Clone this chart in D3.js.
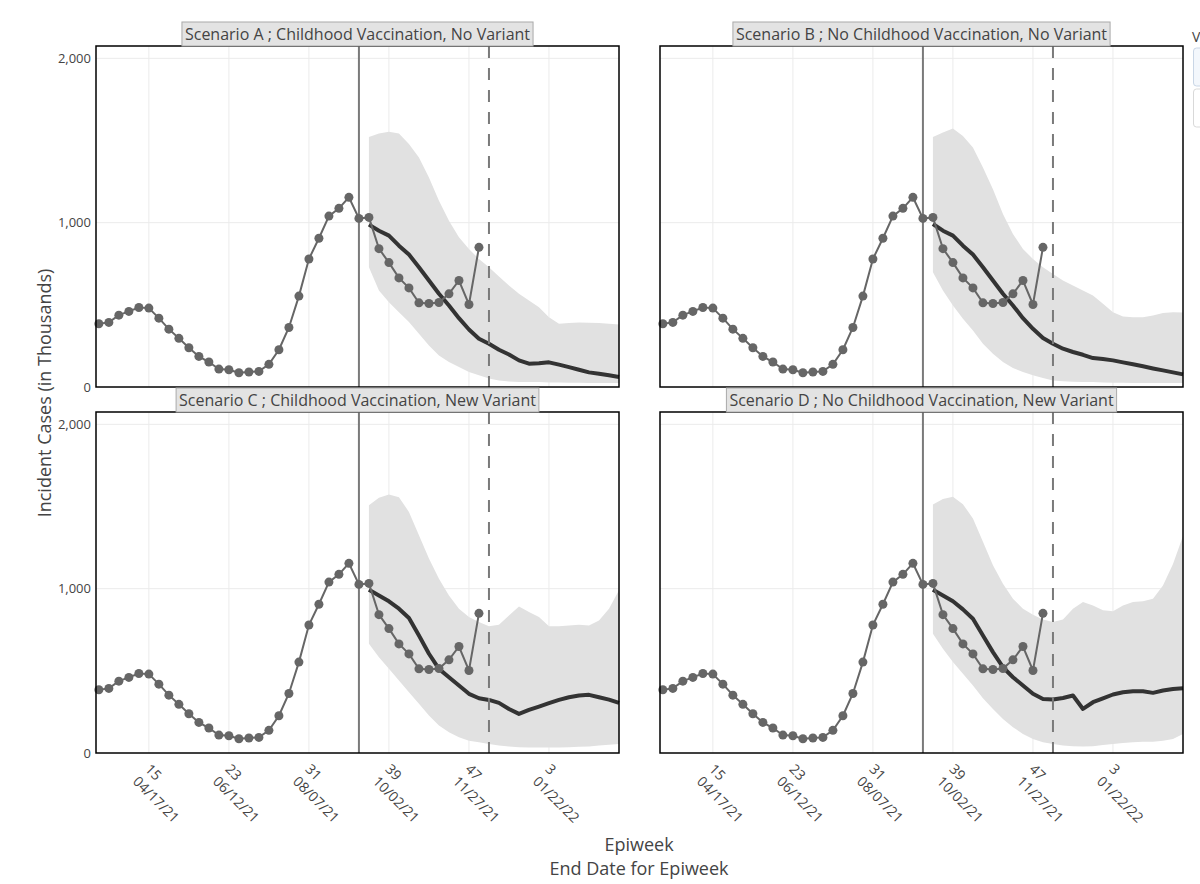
<!DOCTYPE html>
<html>
<head>
<meta charset="utf-8">
<script src="https://cdn.jsdelivr.net/npm/d3@7"></script>
<style>
    body { margin: 0; background: #fff; }
    svg { display: block; font-family: "Open Sans", sans-serif; }
</style>
</head>
<body>
<div id="chart"></div>
<script>

// ---- data (incident cases, thousands) ----
const panelTitles = [
    "Scenario A ; Childhood Vaccination, No Variant",
    "Scenario B ; No Childhood Vaccination, No Variant",
    "Scenario C ; Childhood Vaccination, New Variant",
    "Scenario D ; No Childhood Vaccination, New Variant"
];

const tickWeeks = ["15", "23", "31", "39", "47", "3"];
const tickDates = ["2021-04-17", "2021-06-12", "2021-08-07", "2021-10-02", "2021-11-27", "2022-01-22"];
const yTicks = [0, 1000, 2000];

// observed, weekly from epiweek 10 (03/13/21) to epiweek 48 (12/04/21)
const obsStart = "2021-03-13";
const obsCases = [385, 393, 437, 460, 484, 480, 419, 352, 296, 239, 186, 152, 109, 105, 87, 91, 95,
    138, 227, 362, 553, 779, 905, 1040, 1087, 1154, 1026, 1032, 842, 757, 664, 603, 512, 508, 514,
    567, 648, 502, 850];

// projections, weekly from epiweek 37 (09/18/21) to 2022 epiweek 10 (03/12/22)
const projStart = "2021-09-18";
const medA = [988, 951, 921, 860, 806, 729, 648, 567, 496, 419, 350, 294, 263, 227, 198, 162, 142, 144, 150, 136, 121, 105, 89, 81, 71, 61];
const upA  = [1522, 1543, 1553, 1543, 1478, 1397, 1275, 1134, 1012, 911, 840, 779, 729, 672, 617, 567, 526, 486, 425, 385, 389, 393, 391, 389, 385, 381];
const loA  = [729, 587, 516, 455, 395, 324, 253, 192, 152, 121, 91, 71, 51, 40, 34, 30, 30, 30, 28, 28, 26, 26, 25, 24, 24, 24];

const medB = [992, 951, 921, 860, 806, 729, 648, 567, 496, 419, 354, 298, 263, 233, 213, 196, 176, 170, 162, 150, 138, 126, 113, 101, 89, 77];
const upB  = [1522, 1549, 1573, 1528, 1457, 1336, 1204, 1053, 931, 840, 779, 729, 688, 648, 617, 587, 557, 506, 455, 429, 425, 425, 435, 451, 455, 453];
const loB  = [698, 587, 496, 415, 344, 263, 202, 152, 115, 91, 71, 55, 40, 35, 32, 30, 30, 28, 26, 26, 25, 25, 24, 24, 24, 24];

const medC = [994, 959, 923, 878, 821, 715, 604, 512, 461, 411, 360, 333, 323, 305, 268, 238, 262, 282, 303, 323, 339, 350, 354, 339, 325, 305];
const upC  = [1508, 1553, 1573, 1557, 1467, 1325, 1183, 1061, 959, 878, 827, 797, 772, 780, 837, 892, 858, 827, 772, 772, 776, 780, 776, 807, 878, 990];
const loC  = [665, 583, 512, 441, 370, 299, 228, 167, 126, 96, 75, 65, 55, 45, 39, 35, 33, 33, 33, 34, 35, 38, 40, 45, 50, 55];

const medD = [994, 959, 923, 874, 817, 715, 614, 522, 461, 411, 360, 329, 325, 335, 350, 268, 309, 333, 356, 370, 376, 376, 366, 380, 390, 394];
const upD  = [1512, 1545, 1559, 1514, 1427, 1285, 1142, 1030, 939, 878, 841, 813, 797, 813, 878, 919, 898, 868, 862, 898, 919, 923, 939, 1020, 1150, 1320];
const loD  = [726, 634, 553, 482, 411, 333, 268, 207, 157, 116, 85, 65, 55, 45, 41, 39, 41, 49, 55, 61, 65, 69, 69, 75, 85, 116];

const projLineDate = "2021-09-11";
const dashLineDate = "2021-12-11";


class PanelVis {
    constructor(svg, cfg) {
        this.svg = svg;
        this.cfg = cfg;
        this.initVis();
    }

    initVis() {
        let vis = this;
        let cfg = vis.cfg;

        vis.width = 523;
        vis.height = 341;

        vis.g = vis.svg.append("g")
            .attr("transform", "translate(" + cfg.left + "," + cfg.top + ")");

        vis.x = d3.scaleTime()
            .domain([parse("2021-03-11"), parse("2022-03-12")])
            .range([0, vis.width]);

        vis.y = d3.scaleLinear()
            .domain([0, 2075])
            .range([vis.height, 0]);

        // grid
        vis.g.append("g").selectAll("line")
            .data(tickDates.map(parse))
            .join("line")
            .attr("x1", d => vis.x(d)).attr("x2", d => vis.x(d))
            .attr("y1", 0).attr("y2", vis.height)
            .attr("stroke", "#ebebeb").attr("stroke-width", 1);

        vis.g.append("g").selectAll("line")
            .data(yTicks.slice(1))
            .join("line")
            .attr("x1", 0).attr("x2", vis.width)
            .attr("y1", d => vis.y(d)).attr("y2", d => vis.y(d))
            .attr("stroke", "#ebebeb").attr("stroke-width", 1);

        vis.wrangleData();
    }

    wrangleData() {
        let vis = this;
        let s = parse(projStart);
        vis.proj = vis.cfg.med.map((m, i) => ({
            date: d3.timeDay.offset(s, 7 * i),
            med: m,
            up: vis.cfg.up[i],
            lo: vis.cfg.lo[i]
        }));
        let o = parse(obsStart);
        vis.obs = obsCases.map((v, i) => ({date: d3.timeDay.offset(o, 7 * i), value: v}));

        vis.updateVis();
    }

    updateVis() {
        let vis = this;

        let area = d3.area()
            .x(d => vis.x(d.date))
            .y0(d => vis.y(d.lo))
            .y1(d => vis.y(d.up));

        vis.g.append("path")
            .datum(vis.proj)
            .attr("d", area)
            .attr("fill", "#e1e1e1");

        let medLine = d3.line()
            .x(d => vis.x(d.date))
            .y(d => vis.y(d.med));

        vis.g.append("path")
            .datum(vis.proj)
            .attr("d", medLine)
            .attr("fill", "none")
            .attr("stroke", "#333")
            .attr("stroke-width", 4)
            .attr("stroke-linejoin", "round");

        // projection start / current week
        vis.g.append("line")
            .attr("x1", vis.x(parse(projLineDate))).attr("x2", vis.x(parse(projLineDate)))
            .attr("y1", 0).attr("y2", vis.height)
            .attr("stroke", "#7a7a7a").attr("stroke-width", 2);

        vis.g.append("line")
            .attr("x1", vis.x(parse(dashLineDate))).attr("x2", vis.x(parse(dashLineDate)))
            .attr("y1", 0).attr("y2", vis.height)
            .attr("stroke", "#7a7a7a").attr("stroke-width", 2)
            .attr("stroke-dasharray", "12,10");

        let obsLine = d3.line()
            .x(d => vis.x(d.date))
            .y(d => vis.y(d.value));

        vis.g.append("path")
            .datum(vis.obs)
            .attr("d", obsLine)
            .attr("fill", "none")
            .attr("stroke", "#666")
            .attr("stroke-width", 2);

        vis.g.append("g").selectAll("circle")
            .data(vis.obs)
            .join("circle")
            .attr("cx", d => vis.x(d.date))
            .attr("cy", d => vis.y(d.value))
            .attr("r", 4.5)
            .attr("fill", "#666");

        // frame
        vis.g.append("rect")
            .attr("width", vis.width)
            .attr("height", vis.height)
            .attr("fill", "none")
            .attr("stroke", "#000")
            .attr("stroke-width", 1.5);

        // strip title
        let strip = vis.g.append("g");
        let stripRect = strip.append("rect");
        let stripText = strip.append("text")
            .attr("x", vis.width / 2)
            .attr("y", -6)
            .attr("text-anchor", "middle")
            .attr("font-size", 16)
            .attr("fill", "#444")
            .text(vis.cfg.title);
        let tw = stripText.node().getComputedTextLength();
        stripRect
            .attr("x", vis.width / 2 - tw / 2 - 3)
            .attr("y", -24)
            .attr("width", tw + 6)
            .attr("height", 24)
            .attr("fill", "#e3e3e3")
            .attr("stroke", "#aaa")
            .attr("stroke-width", 1);

        // y axis
        if (vis.cfg.showY) {
            let yAxis = d3.axisLeft(vis.y)
                .tickValues(yTicks)
                .tickSize(0)
                .tickPadding(5)
                .tickFormat(d3.format(","));
            let yg = vis.g.append("g").call(yAxis);
            yg.select(".domain").remove();
            yg.selectAll("text")
                .attr("font-family", "'Open Sans', sans-serif")
                .attr("font-size", 13)
                .attr("fill", "#444");
        }

        // x axis
        if (vis.cfg.showX) {
            let xAxis = d3.axisBottom(vis.x)
                .tickValues(tickDates.map(parse))
                .tickSize(0)
                .tickFormat("");
            let xg = vis.g.append("g")
                .attr("transform", "translate(0," + vis.height + ")")
                .call(xAxis);
            xg.select(".domain").remove();
            let fmt = d3.timeFormat("%m/%d/%y");
            xg.selectAll(".tick text")
                .attr("y", 0).attr("dy", null)
                .attr("text-anchor", "start")
                .attr("transform", "translate(-5,17) rotate(45)")
                .attr("font-family", "'Open Sans', sans-serif")
                .attr("font-size", 14)
                .attr("fill", "#444")
                .each(function (d, i) {
                    let t = d3.select(this);
                    t.append("tspan").attr("x", 0).attr("dy", 0).text(tickWeeks[i]);
                    t.append("tspan").attr("x", 0).attr("dy", "1.25em").text(fmt(d));
                });
        }
    }
}

const parse = d3.timeParse("%Y-%m-%d");

const svg = d3.select("#chart").append("svg")
    .attr("width", 1200)
    .attr("height", 884);

let panels = [
    {title: panelTitles[0], med: medA, up: upA, lo: loA, left: 96, top: 46, showX: false, showY: true},
    {title: panelTitles[1], med: medB, up: upB, lo: loB, left: 660, top: 46, showX: false, showY: false},
    {title: panelTitles[2], med: medC, up: upC, lo: loC, left: 96, top: 412, showX: true, showY: true},
    {title: panelTitles[3], med: medD, up: upD, lo: loD, left: 660, top: 412, showX: true, showY: false}
];
panels.forEach(p => new PanelVis(svg, p));

// axis titles
svg.append("text")
    .attr("transform", "translate(51,393) rotate(-90)")
    .attr("text-anchor", "middle")
    .attr("font-size", 18)
    .attr("fill", "#444")
    .text("Incident Cases (in Thousands)");

svg.append("text")
    .attr("x", 639).attr("y", 851)
    .attr("text-anchor", "middle")
    .attr("font-size", 18)
    .attr("fill", "#444")
    .text("Epiweek");

svg.append("text")
    .attr("x", 639).attr("y", 875)
    .attr("text-anchor", "middle")
    .attr("font-size", 18)
    .attr("fill", "#444")
    .text("End Date for Epiweek");

// legend (only its left edge is inside the picture)
let legend = svg.append("g").attr("transform", "translate(1192,0)");
legend.append("text")
    .attr("x", 0).attr("y", 42)
    .attr("font-size", 14)
    .attr("fill", "#444")
    .text("V");
legend.append("rect")
    .attr("x", 1.5).attr("y", 48).attr("rx", 3)
    .attr("width", 120).attr("height", 38)
    .attr("fill", "#f3f7fc").attr("stroke", "#c9d6e6");
legend.append("rect")
    .attr("x", 1.5).attr("y", 89).attr("rx", 3)
    .attr("width", 120).attr("height", 38)
    .attr("fill", "#fff").attr("stroke", "#d9d9d9");

</script>
</body>
</html>
